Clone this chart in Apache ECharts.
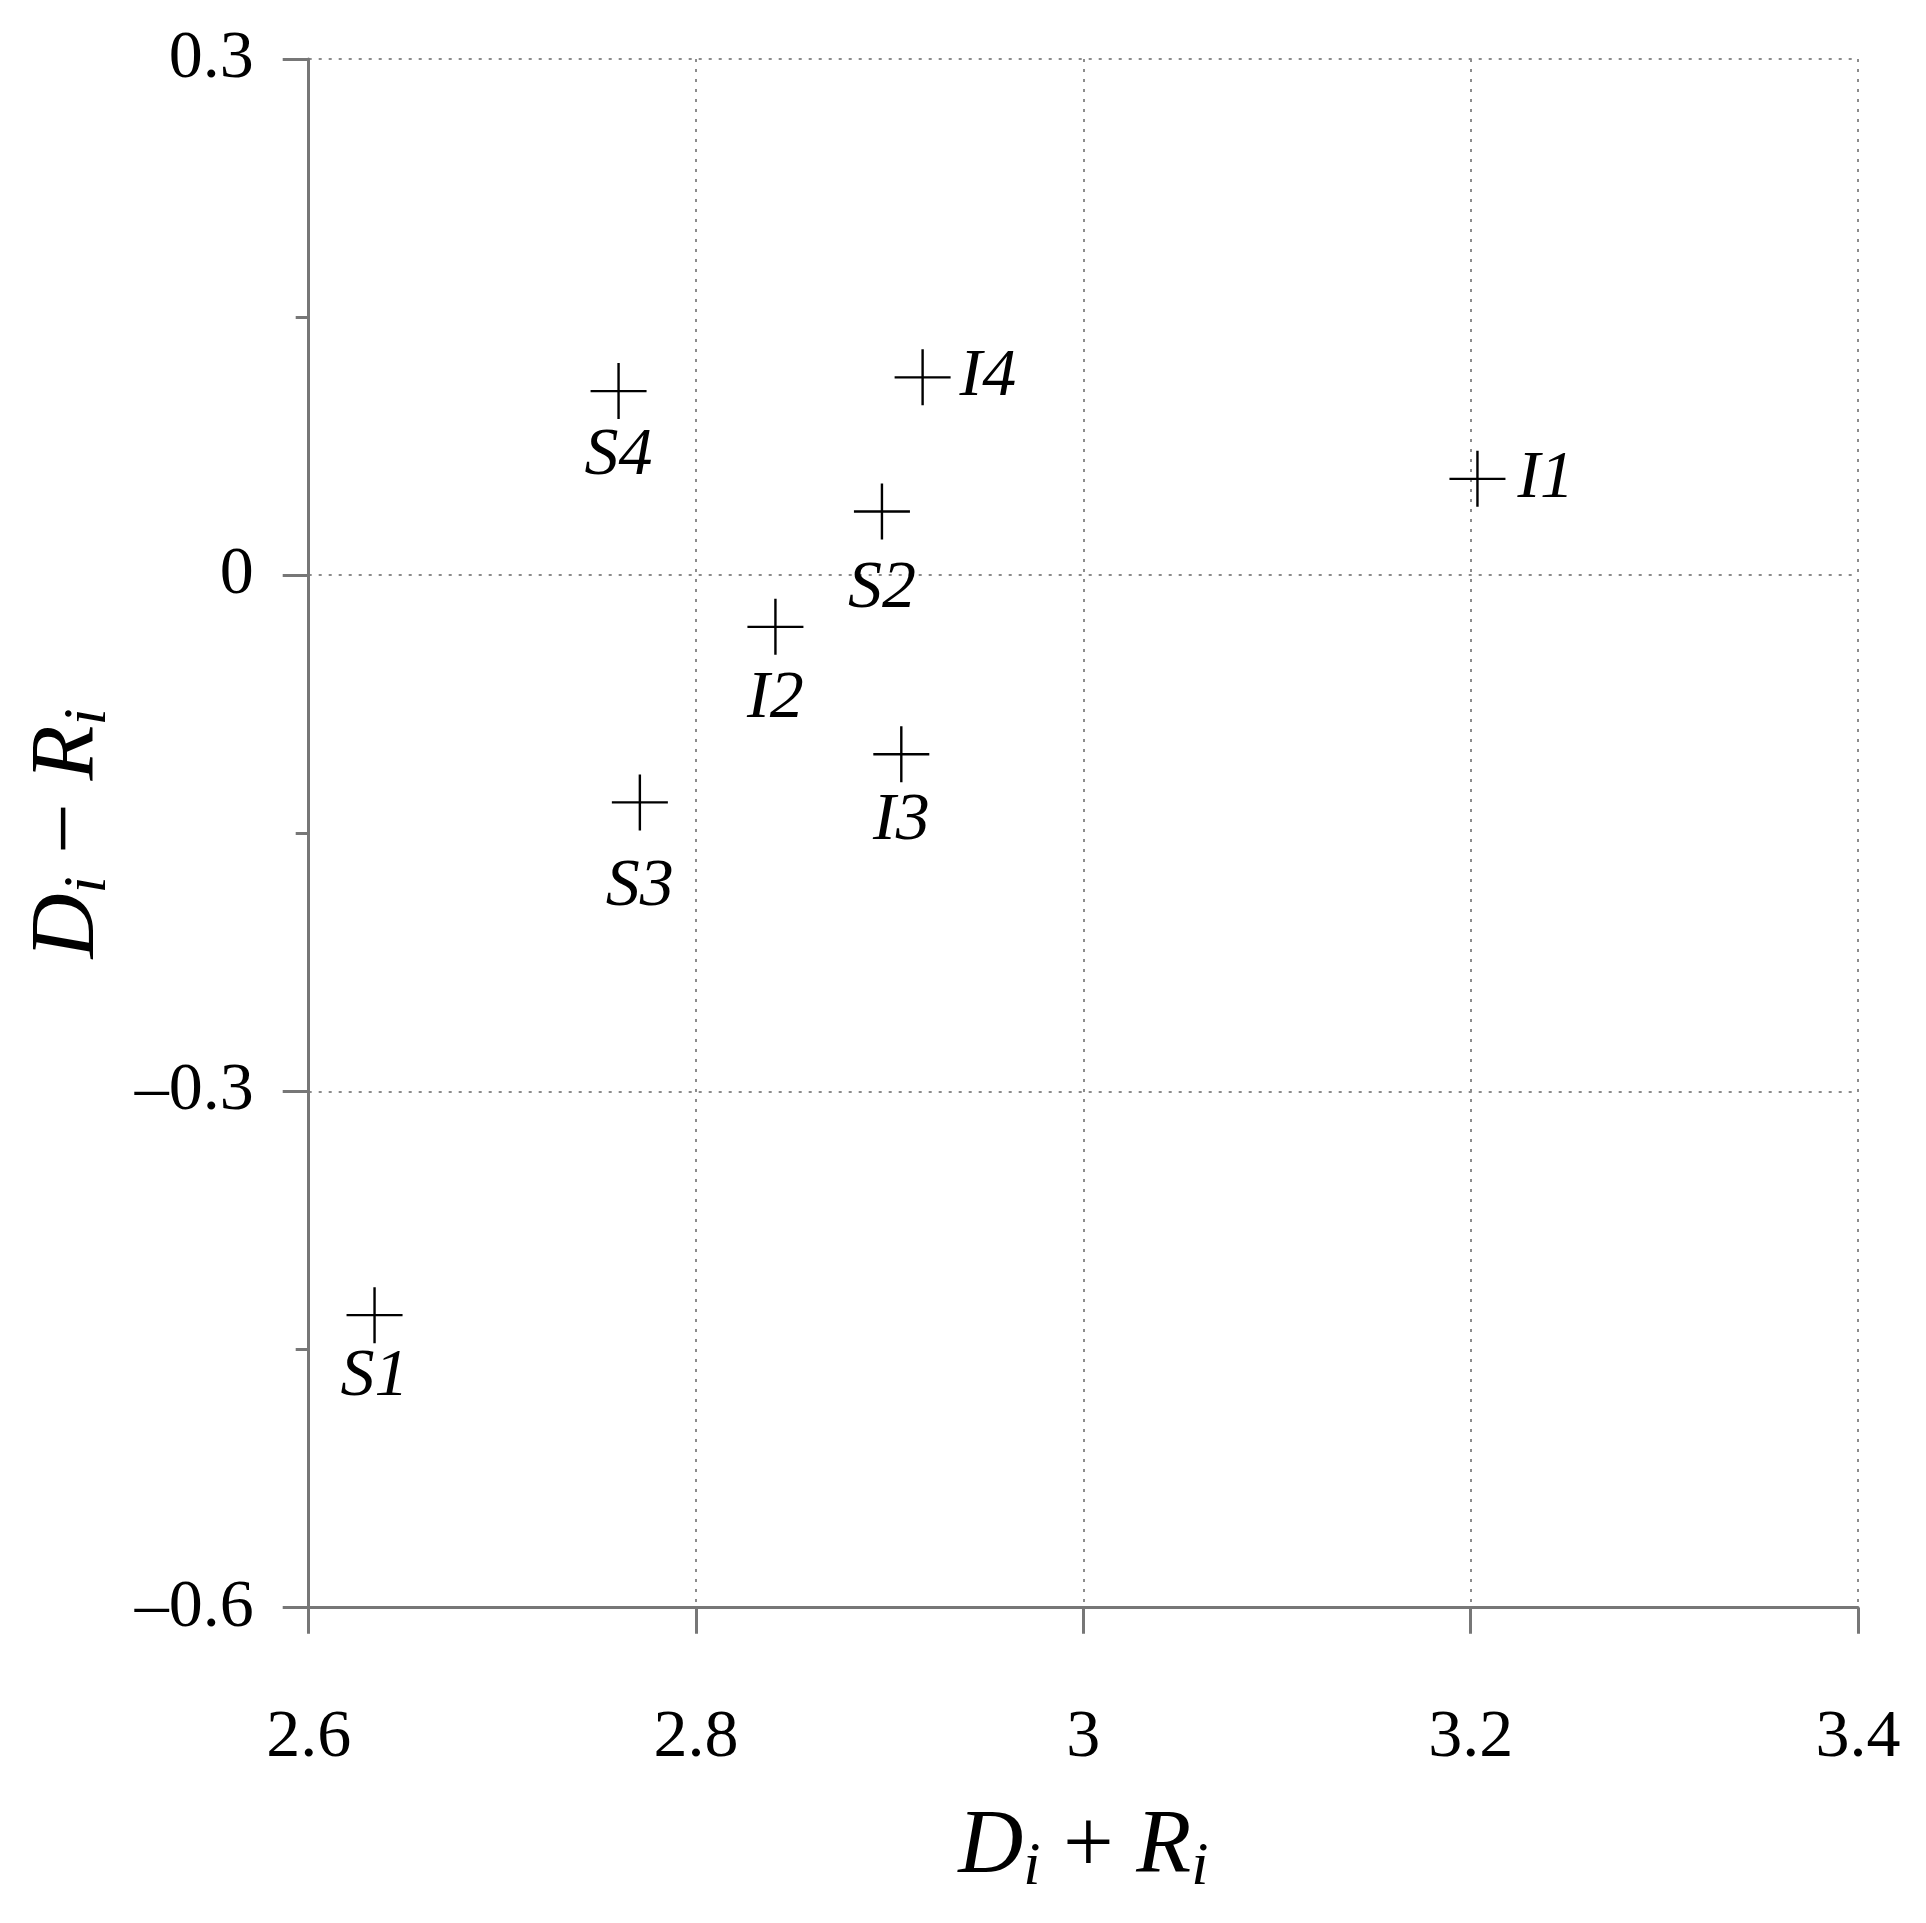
<!DOCTYPE html>
<html>
<head>
<meta charset="utf-8">
<script src="https://cdn.jsdelivr.net/npm/echarts@6/dist/echarts.min.js"></script>
<style>
html,body{margin:0;padding:0;background:#fff;}
#chart{width:1926px;height:1923px;}
</style>
</head>
<body>
<div id="chart"></div>
<script>
// ---- data ----
const pointNames = ['S1', 'S2', 'S3', 'S4', 'I1', 'I2', 'I3', 'I4'];
const sumDR = [2.634, 2.896, 2.771, 2.760, 3.2035, 2.841, 2.906, 2.917];   // D_i + R_i
const diffDR = [-0.430, 0.037, -0.132, 0.107, 0.056, -0.030, -0.104, 0.115]; // D_i - R_i
const xTickValues = [2.6, 2.8, 3.0, 3.2, 3.4];
const yTickValues = [-0.6, -0.3, 0, 0.3];

// ---- style (not data) ----
const SERIF = 'Liberation Serif';
const rightLabelNames = ['I1', 'I4'];
const labelDistances = { S1: 0, S2: 16, S3: 23, S4: 3, I1: 12, I2: 10, I3: 5, I4: 9 };
const crossPath = 'path://M26.8,0 H29.2 V26.8 H56 V29.2 H29.2 V56 H26.8 V29.2 H0 V26.8 H26.8 Z';

function fmt(v) {
  const n = parseFloat(Number(v).toFixed(2));
  return n < 0 ? '\u2013' + Math.abs(n) : String(n);
}

const nameRich = {
  it: { fontFamily: SERIF, fontStyle: 'italic', fontSize: 90, lineHeight: 100, color: '#000' },
  sub: { fontFamily: SERIF, fontStyle: 'italic', fontSize: 62, lineHeight: 62, verticalAlign: 'bottom', color: '#000' },
  op: { fontFamily: SERIF, fontSize: 90, lineHeight: 100, color: '#000' }
};

const axisGray = '#777777';
const gridGray = '#8c8c8c';

const seriesData = pointNames.map((n, i) => {
  const right = rightLabelNames.indexOf(n) >= 0;
  return {
    name: n,
    value: [sumDR[i], diffDR[i]],
    label: {
      position: right ? 'right' : 'bottom',
      distance: labelDistances[n]
    }
  };
});

const chart = echarts.init(document.getElementById('chart'), null, { renderer: 'canvas' });
chart.setOption({
  backgroundColor: '#fff',
  animation: false,
  grid: { left: 308.7, right: 68, top: 59, bottom: 315.3, containLabel: false },
  xAxis: {
    type: 'value',
    min: xTickValues[0],
    max: xTickValues[xTickValues.length - 1],
    interval: 0.2,
    name: '{it|D}{sub|i}{op| + }{it|R}{sub|i}',
    nameLocation: 'middle',
    nameGap: 191,
    nameTextStyle: { rich: nameRich },
    axisLine: { show: true, onZero: false, lineStyle: { color: axisGray, width: 3 } },
    axisTick: { show: true, inside: false, length: 26, lineStyle: { color: axisGray, width: 3 } },
    minorTick: { show: false },
    axisLabel: {
      show: true, margin: 96, formatter: fmt,
      fontFamily: SERIF, fontSize: 68, color: '#000',
      showMinLabel: true, showMaxLabel: true
    },
    splitLine: { show: true, lineStyle: { color: gridGray, width: 2, type: [3, 7] } }
  },
  yAxis: {
    type: 'value',
    min: yTickValues[0],
    max: yTickValues[yTickValues.length - 1],
    interval: 0.3,
    name: '{it|D}{sub|i}{op| \u2212 }{it|R}{sub|i}',
    nameLocation: 'middle',
    nameGap: 189,
    nameRotate: 90,
    nameTextStyle: { rich: nameRich },
    axisLine: { show: true, onZero: false, lineStyle: { color: axisGray, width: 3 } },
    axisTick: { show: true, inside: false, length: 26, lineStyle: { color: axisGray, width: 3 } },
    minorTick: { show: true, splitNumber: 2, length: 13, lineStyle: { color: axisGray, width: 3 } },
    axisLabel: {
      show: true, margin: 55, formatter: fmt,
      fontFamily: SERIF, fontSize: 68, color: '#000',
      showMinLabel: true, showMaxLabel: true
    },
    splitLine: { show: true, lineStyle: { color: gridGray, width: 2, type: [3, 7] } }
  },
  series: [{
    type: 'scatter',
    data: seriesData,
    symbol: crossPath,
    symbolSize: [56, 56],
    symbolKeepAspect: true,
    itemStyle: { color: '#000', opacity: 1 },
    label: {
      show: true,
      formatter: p => p.name,
      fontFamily: SERIF,
      fontStyle: 'italic',
      fontSize: 68,
      color: '#000'
    },
    emphasis: { disabled: true }
  }]
});
</script>
</body>
</html>
